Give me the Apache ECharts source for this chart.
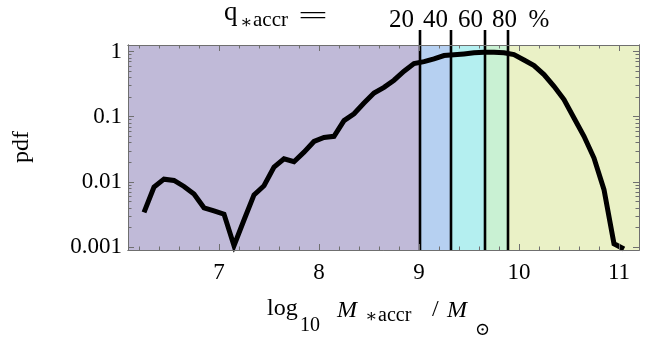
<!DOCTYPE html>
<html lang="en">
<head>
<meta charset="UTF-8">
<title>pdf of accreted stellar mass</title>
<script src="https://cdn.jsdelivr.net/npm/echarts@6.0.0/dist/echarts.min.js"></script>
<style>
    html, body { margin: 0; padding: 0; background: #fff; }
    #chart { width: 647px; height: 350px; }
</style>
</head>
<body>
<div id="chart"></div>
<script>
// bin centres in log10 M*accr / Msun
var massBins = [6.25, 6.35, 6.45, 6.55, 6.65, 6.75, 6.85, 6.95, 7.05, 7.15,
                7.25, 7.35, 7.45, 7.55, 7.65, 7.75, 7.85, 7.95, 8.05, 8.15,
                8.25, 8.35, 8.45, 8.55, 8.65, 8.75, 8.85, 8.95, 9.05, 9.15,
                9.25, 9.35, 9.45, 9.55, 9.65, 9.75, 9.85, 9.95, 10.05, 10.15,
                10.25, 10.35, 10.45, 10.55, 10.65, 10.75, 10.85, 10.95, 11.05];
// pdf
var pdfValues = [0.0034, 0.0083, 0.011, 0.0105, 0.0085, 0.0065, 0.0040, 0.0036, 0.0032, 0.00105,
                 0.0026, 0.0063, 0.0087, 0.0168, 0.0226, 0.0204, 0.0286, 0.0417, 0.048, 0.050,
                 0.087, 0.111, 0.162, 0.231, 0.282, 0.363, 0.50, 0.653, 0.70, 0.77,
                 0.867, 0.89, 0.92, 0.955, 0.977, 0.977, 0.955, 0.90, 0.741, 0.61,
                 0.443, 0.293, 0.183, 0.0955, 0.050, 0.0232, 0.0076, 0.00112, 0.00093];

// q*accr = 20, 40, 60, 80 % boundaries
var quantileEdges = [9.01, 9.32, 9.66, 9.89];
var quantileLabels = ['20', '40', '60', '80'];
var bandColors = ['#c0bad8', '#b6d0f1', '#b4eff0', '#c9f1d3', '#eaf1c6'];

var xTicks = [7, 8, 9, 10, 11];
var xMinorTicks = [6.2, 6.4, 6.6, 6.8, 7.2, 7.4, 7.6, 7.8, 8.2, 8.4, 8.6, 8.8,
                   9.2, 9.4, 9.6, 9.8, 10.2, 10.4, 10.6, 10.8];
var yTicks = [0.001, 0.01, 0.1, 1];
var yMinorTicks = [0.002, 0.003, 0.004, 0.005, 0.006, 0.007, 0.008, 0.009,
                   0.02, 0.03, 0.04, 0.05, 0.06, 0.07, 0.08, 0.09,
                   0.2, 0.3, 0.4, 0.5, 0.6, 0.7, 0.8, 0.9];

var xMin = 6.09, xMax = 11.2;
var yMin = 0.0009, yMax = 1.26;

var serif = '"Liberation Serif", "DejaVu Serif", serif';
var frameColor = '#6f6f6f';

var chart = echarts.init(document.getElementById('chart'));

function xAx(pos, ticks, len, labels) {
    return {
        type: 'value', position: pos, min: xMin, max: xMax, z: 10,
        axisLine: { show: true, onZero: false, lineStyle: { color: frameColor, width: 1 } },
        axisTick: { show: true, inside: true, length: len, customValues: ticks,
                    lineStyle: { color: frameColor, width: 1 } },
        axisLabel: { show: labels, customValues: ticks, margin: 11,
                     color: '#000', fontSize: 23, fontFamily: serif },
        splitLine: { show: false }
    };
}

function yAx(pos, ticks, len, labels) {
    return {
        type: 'log', logBase: 10, position: pos, min: yMin, max: yMax, z: 10,
        axisLine: { show: true, onZero: false, lineStyle: { color: frameColor, width: 1 } },
        axisTick: { show: true, inside: true, length: len, customValues: ticks,
                    lineStyle: { color: frameColor, width: 1 } },
        axisLabel: { show: labels, customValues: ticks, margin: 6,
                     color: '#000', fontSize: 23, fontFamily: serif,
                     formatter: function (v) { return String(+(+v).toPrecision(3)); } },
        splitLine: { show: false }
    };
}

var bands = [];
var edges = [xMin].concat(quantileEdges, [xMax]);
for (var i = 0; i < edges.length - 1; i++) {
    bands.push([{ xAxis: edges[i], itemStyle: { color: bandColors[i] } }, { xAxis: edges[i + 1] }]);
}

var curve = [];
for (var j = 0; j < massBins.length; j++) {
    curve.push([massBins[j], pdfValues[j]]);
}

function txt(s, x, y, size, extra) {
    var style = { text: s, x: 0, y: 0, font: (extra && extra.italic ? 'italic ' : '') + size + 'px ' + serif,
                  fill: '#000', textAlign: (extra && extra.align) || 'left', textVerticalAlign: 'middle' };
    var el = { type: 'text', x: x, y: y, style: style, silent: true };
    if (extra && extra.scaleX) el.scaleX = extra.scaleX;
    if (extra && extra.rotation) el.rotation = extra.rotation;
    return el;
}

var labelCentres = [401.5, 435.5, 470.5, 504.5];
var graphics = [
    txt('q', 224, 13, 27),
    txt('\u2217', 240, 23, 18),
    txt('accr', 253, 20, 21),
    txt('=', 313, 16.7, 23, { align: 'center', scaleX: 2.3 }),
    txt('%', 539, 20.5, 25, { align: 'center' }),
    // x axis title
    txt('log', 267, 308.6, 24),
    txt('10', 300, 325.5, 20),
    txt('M', 337, 310.4, 24, { italic: true }),
    txt('\u2217', 365, 317, 18),
    txt('accr', 378, 315.4, 20),
    txt('/', 432, 310, 24),
    txt('M', 447, 310.4, 24, { italic: true }),
    txt('\u2299', 482.5, 330, 18, { align: 'center' }),
    txt('pdf', 22, 147, 24, { align: 'center', rotation: Math.PI / 2 })
];
for (var k = 0; k < quantileLabels.length; k++) {
    graphics.push(txt(quantileLabels[k], labelCentres[k], 20.5, 25, { align: 'center' }));
}

var option = {
    animation: false,
    grid: { left: 128, right: 8, top: 45, bottom: 100 },
    xAxis: [
        xAx('bottom', xTicks, 6, true),
        xAx('bottom', xMinorTicks, 3.5, false),
        xAx('top', xTicks, 6, false),
        xAx('top', xMinorTicks, 3.5, false)
    ],
    yAxis: [
        yAx('left', yTicks, 6, true),
        yAx('left', yMinorTicks, 3.5, false),
        yAx('right', yTicks, 6, false),
        yAx('right', yMinorTicks, 3.5, false)
    ],
    graphic: graphics,
    series: [
        {
            name: 'pdf',
            type: 'line',
            data: curve,
            showSymbol: false,
            z: 4,
            lineStyle: { color: '#000', width: 5, join: 'miter', miterLimit: 10 },
            markArea: { silent: true, itemStyle: { opacity: 1 }, data: bands }
        },
        {
            name: 'quantiles',
            type: 'custom',
            z: 3,
            clip: false,
            data: quantileEdges.map(function (v) { return [v]; }),
            encode: { x: 0 },
            renderItem: function (params, api) {
                var bottom = api.coord([api.value(0), yMin]);
                var top = api.coord([api.value(0), yMax]);
                return {
                    type: 'line',
                    shape: { x1: bottom[0], y1: bottom[1], x2: top[0], y2: top[1] - 15 },
                    style: { stroke: '#000', lineWidth: 2.6 }
                };
            }
        }
    ]
};
chart.setOption(option);
</script>
</body>
</html>
